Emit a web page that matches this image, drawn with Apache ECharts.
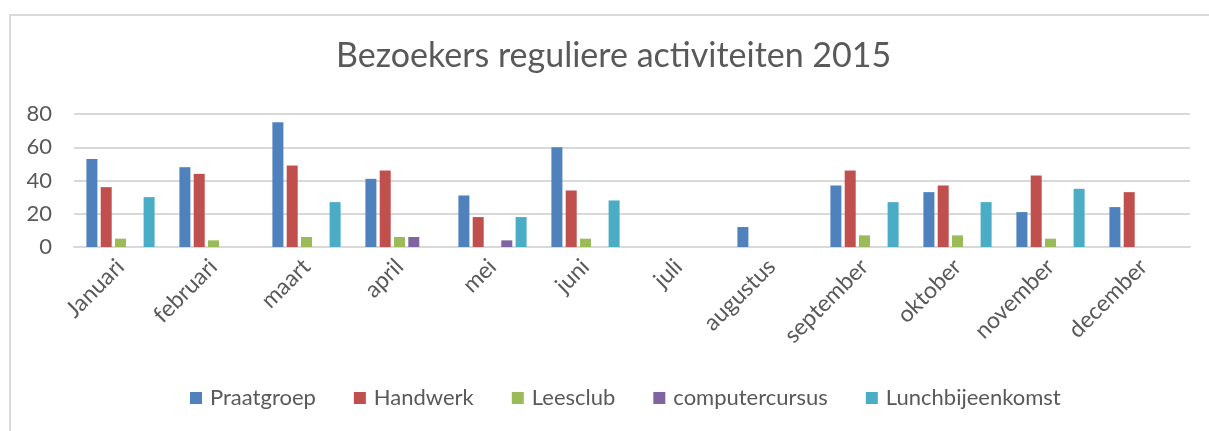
<!DOCTYPE html>
<html>
<head>
<meta charset="utf-8">
<script src="https://cdn.jsdelivr.net/npm/echarts@6/dist/echarts.min.js"></script>
<style>
  html, body { margin: 0; padding: 0; background: #fff; }
  #wrap { position: relative; width: 1209px; height: 431px; overflow: hidden; }
  #frame { position: absolute; left: 9px; top: 14px; width: 1230px; height: 460px; border: 2px solid #d9d9d9; box-sizing: border-box; }
  #main { position: absolute; left: 0; top: 0; width: 1209px; height: 431px; }
</style>
</head>
<body>
<div id="wrap">
  <div id="frame"></div>
  <div id="main"></div>
</div>
<script>
var months = ['Januari', 'februari', 'maart', 'april', 'mei', 'juni', 'juli', 'augustus', 'september', 'oktober', 'november', 'december'];
var praatgroep = [53, 48, 75, 41, 31, 60, 0, 12, 37, 33, 21, 24];
var handwerk = [36, 44, 49, 46, 18, 34, 0, 0, 46, 37, 43, 33];
var leesclub = [5, 4, 6, 6, 0, 5, 0, 0, 7, 7, 5, 0];
var computercursus = [0, 0, 0, 6, 4, 0, 0, 0, 0, 0, 0, 0];
var lunch = [30, 0, 27, 0, 18, 28, 0, 0, 27, 27, 35, 0];
var yTicks = [0, 20, 40, 60, 80];

var chartDom = document.getElementById('main');
var myChart = echarts.init(chartDom);
var font = 'Lato';

function bar(name, data, color) {
    return {
        name: name,
        type: 'bar',
        data: data,
        barWidth: 11,
        barGap: '30%',
        itemStyle: { color: color },
        emphasis: { disabled: true }
    };
}

var option = {
    animation: false,
    color: ['#4F81BD', '#C0504D', '#9BBB59', '#8064A2', '#4BACC6'],
    title: {
        text: 'Bezoekers reguliere activiteiten 2015',
        left: 331,
        top: 34,
        textStyle: { fontFamily: font, fontSize: 34, fontWeight: 'normal', color: '#595959' }
    },
    legend: {
        bottom: 17,
        left: 185,
        itemWidth: 12,
        itemHeight: 12,
        itemGap: 38,
        icon: 'rect',
        textStyle: { fontFamily: font, fontSize: 22, color: '#595959', padding: [0, 0, 0, 3] }
    },
    grid: {
        left: 74,
        right: 19,
        top: 114,
        bottom: 184
    },
    xAxis: {
        type: 'category',
        data: months,
        axisLine: { lineStyle: { color: '#d9d9d9', width: 2 } },
        axisTick: { show: false },
        axisLabel: {
            rotate: 45,
            interval: 0,
            margin: 16,
            fontFamily: font,
            fontSize: 23,
            color: '#595959'
        }
    },
    yAxis: {
        type: 'value',
        min: yTicks[0],
        max: yTicks[yTicks.length - 1],
        interval: yTicks[1] - yTicks[0],
        axisLine: { show: false },
        axisTick: { show: false },
        splitLine: { lineStyle: { color: '#d9d9d9', width: 2 } },
        axisLabel: { margin: 22, fontFamily: font, fontSize: 22, color: '#595959' }
    },
    series: [
        bar('Praatgroep', praatgroep, '#4F81BD'),
        bar('Handwerk', handwerk, '#C0504D'),
        bar('Leesclub', leesclub, '#9BBB59'),
        bar('computercursus', computercursus, '#8064A2'),
        bar('Lunchbijeenkomst', lunch, '#4BACC6')
    ]
};

option && myChart.setOption(option);
</script>
</body>
</html>
